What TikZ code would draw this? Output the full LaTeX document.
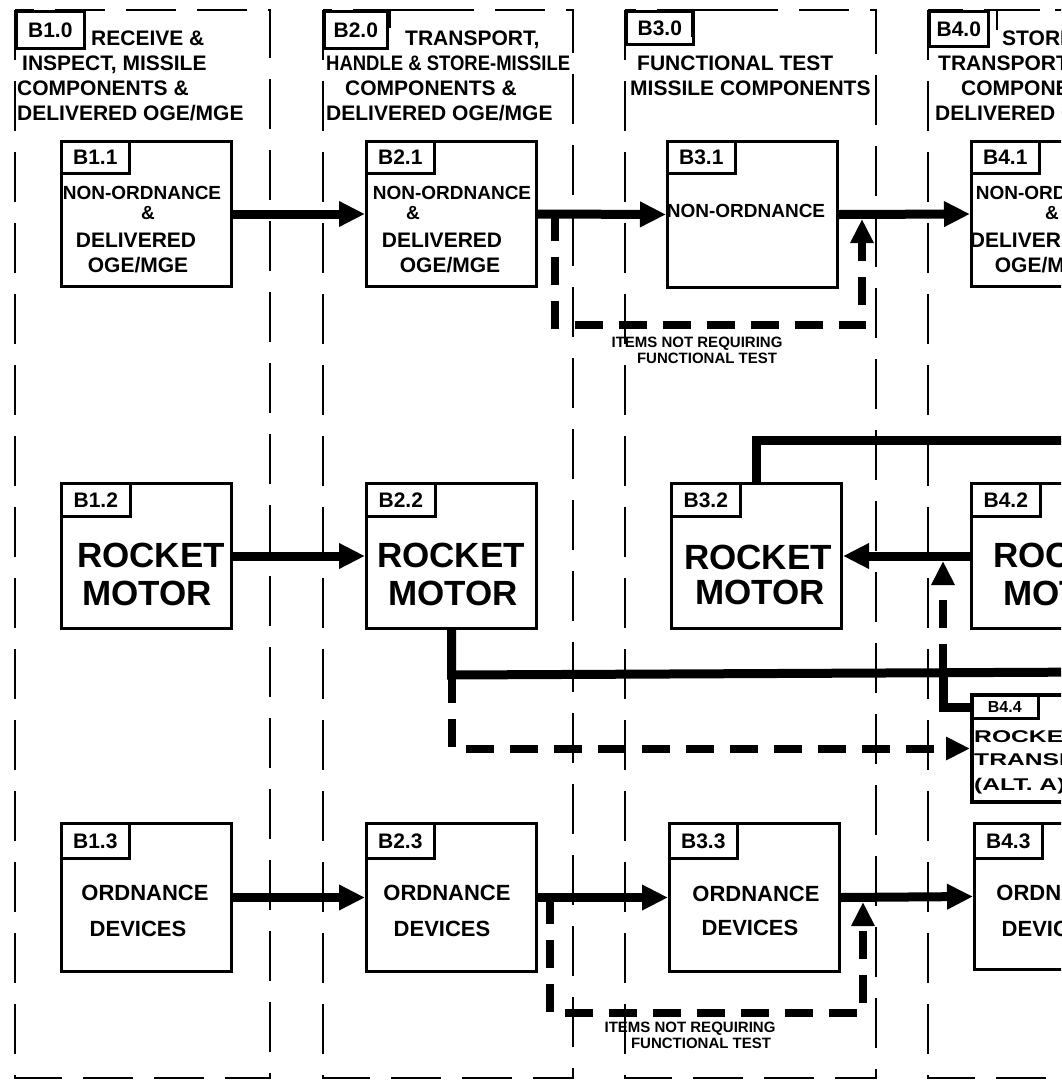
\documentclass[tikz,border=0pt]{standalone}
\usepackage{fontspec}
\usepackage{graphicx}
\setmainfont{Liberation Sans}
\usetikzlibrary{arrows.meta,calc}
\begin{document}
\begin{tikzpicture}[x=1pt,y=-1pt,
  colb/.style={line width=2.6pt, dash pattern=on 50pt off 21pt},
  tab/.style={draw, line width=2.6pt, inner sep=0pt, anchor=north west},
  box/.style={draw, line width=3pt, inner sep=0pt, minimum width=170pt, anchor=north west},
  flow/.style={line width=9pt, -{Triangle[length=26pt,width=24pt]}},
  tline/.style={line width=9pt},
  dflow/.style={line width=8pt, dash pattern=on 28pt off 16pt, -{Triangle[length=24pt,width=22pt]}},
  brk/.style={line width=2.6pt},
  hd/.style={font=\bfseries\fontsize{21}{21}\selectfont, inner sep=0pt, anchor=base west},
  tl/.style={font=\bfseries\fontsize{21}{21}\selectfont, inner sep=0pt, anchor=base},
  no/.style={font=\bfseries\fontsize{19}{19}\selectfont, inner sep=0pt, anchor=base},
  dl/.style={font=\bfseries\fontsize{21}{21}\selectfont, inner sep=0pt, anchor=base},
  rk/.style={font=\bfseries\fontsize{35}{35}\selectfont, inner sep=0pt, anchor=base},
  od/.style={font=\bfseries\fontsize{22}{22}\selectfont, inner sep=0pt, anchor=base},
  sm/.style={font=\bfseries\fontsize{15}{15}\selectfont, inner sep=0pt, anchor=base},
  bx/.style={font=\bfseries\fontsize{17}{17}\selectfont, inner sep=0pt, anchor=base west},
  tls/.style={font=\bfseries\fontsize{16}{16}\selectfont, inner sep=0pt, anchor=base},
]
\useasboundingbox (0,0) rectangle (1061,1087);
\fill[white] (0,0) rectangle (1061,1087);
\clip (0,0) rectangle (1061,1087);

% ---- column frames ----
\draw[colb] (15,10) rectangle (270,1078);
\draw[colb] (323,10) rectangle (573,1078);
\draw[colb] (625,10) rectangle (876,1078);
\draw[colb] (928,10) rectangle (1120,1078);

% ---- header tabs ----
\node[tab, minimum width=68pt, minimum height=37pt] (h1) at (15,10) {};
\node[tl] (h1l) at ($(h1.center)+(0,7.5)$) {B1.0};
\node[tab, minimum width=63pt, minimum height=37pt] (h2) at (323,10) {};
\node[tl] (h2l) at ($(h2.center)+(0,7.5)$) {B2.0};
\node[tab, minimum width=67pt, minimum height=33pt] (h3) at (625,10) {};
\node[tl] (h3l) at ($(h3.center)+(0,7.5)$) {B3.0};
\node[tab, minimum width=59pt, minimum height=35pt] (h4) at (928,10) {};
\node[tl] (h4l) at ($(h4.center)+(0,7.5)$) {B4.0};
\draw[brk] (390,28) -- (390,10) -- (430,10);
\draw[brk] (692,37) -- (692,10) -- (735,10);
\draw[brk] (997,30) -- (997,10) -- (1040,10);

% ---- header texts ----
\node[hd] (t1a) at (91,45.5) {RECEIVE \&};
\node[hd] (t1b) at (22,70.5) {INSPECT, MISSILE};
\node[hd] (t1c) at (17,95.5) {COMPONENTS \&};
\node[hd] (t1d) at (17,120.5) {DELIVERED OGE/MGE};
\node[hd] (t2a) at (405,45.5) {TRANSPORT,};
\node[hd] (t2b) at (326,70.5) {\scalebox{0.88}[1]{HANDLE \& STORE-MISSILE}};
\node[hd] (t2c) at (345,95.5) {COMPONENTS \&};
\node[hd] (t2d) at (326,120.5) {DELIVERED OGE/MGE};
\node[hd] (t3a) at (637,70.5) {FUNCTIONAL TEST};
\node[hd] (t3b) at (630,95.5) {MISSILE COMPONENTS};
\node[hd] (t4a) at (1002,45.5) {STORE,};
\node[hd] (t4b) at (938,70.5) {TRANSPORT MISSILE};
\node[hd] (t4c) at (961,95.5) {COMPONENTS \&};
\node[hd] (t4d) at (935,120.5) {DELIVERED OGE/MGE};

% ---- row 1 boxes ----
\node[box, minimum height=145pt] (b11) at (60,140) {};
\node[box, minimum height=145pt] (b21) at (365,140) {};
\node[box, minimum height=146pt] (b31) at (666,140) {};
\node[box, minimum height=145pt] (b41) at (970,140) {};
\foreach \b/\l in {b11/B1.1,b21/B2.1,b31/B3.1,b41/B4.1}{
  \node[tab, minimum width=68pt, minimum height=32pt] (\b t) at (\b.north west) {};
  \node[tl] (\b tl) at ($(\b t.center)+(0,7.5)$) {\l};
}
\node[no] (n11a) at (142,199) {NON-ORDNANCE};
\node[no] (n11b) at (148,219) {\&};
\node[dl] (n11c) at (136,247.5) {DELIVERED};
\node[dl] (n11d) at (138,272.5) {OGE/MGE};
\node[no] (n21a) at (452,199) {NON-ORDNANCE};
\node[no] (n21b) at (413,219) {\&};
\node[dl] (n21c) at (442,247.5) {DELIVERED};
\node[dl] (n21d) at (450,272.5) {OGE/MGE};
\node[no] (n31a) at (746,217) {NON-ORDNANCE};
\node[no] (n41a) at (1055,199) {NON-ORDNANCE};
\node[no] (n41b) at (1052,219) {\&};
\node[dl] (n41c) at (1030,247.5) {DELIVERED};
\node[dl] (n41d) at (1045,272.5) {OGE/MGE};

% ---- row 2 boxes ----
\node[box, minimum height=145pt] (b12) at (60,482) {};
\node[box, minimum height=145pt] (b22) at (365,482) {};
\node[box, minimum height=145pt] (b32) at (670,482) {};
\node[box, minimum height=145pt] (b42) at (970,482) {};
\foreach \b/\l in {b12/B1.2,b22/B2.2,b32/B3.2,b42/B4.2}{
  \node[tab, minimum width=69pt, minimum height=33pt] (\b t) at (\b.north west) {};
  \node[tl] (\b tl) at ($(\b t.center)+(0,7.5)$) {\l};
}
\node[rk] (r12a) at (151,567.7) {ROCKET};
\node[rk] (r12b) at (147,605.7) {MOTOR};
\node[rk] (r22a) at (451,567.7) {ROCKET};
\node[rk] (r22b) at (453,605.7) {MOTOR};
\node[rk] (r32a) at (758,569.7) {ROCKET};
\node[rk] (r32b) at (760,604.7) {MOTOR};
\node[rk] (r42a) at (1067,567.7) {ROCKET};
\node[rk] (r42b) at (1068,605.7) {MOTOR};

% ---- B4.4 ----
\node[box, minimum height=107pt, line width=4pt] (b44) at (970,693) {};
\node[tab, minimum width=67pt, minimum height=24pt] (b44t) at (b44.north west) {};
\node[tls] (b44tl) at ($(b44t.center)+(0,5.8)$) {B4.4};
\node[bx] (x44a) at (974,742) {\scalebox{1.45}[1]{ROCKET MOTOR}};
\node[bx] (x44b) at (974,765) {\scalebox{1.45}[1]{TRANSPORT}};
\node[bx] (x44c) at (974,790) {\scalebox{1.45}[1]{(ALT. A)}};

% ---- row 3 boxes ----
\node[box, minimum height=148pt] (b13) at (60,822) {};
\node[box, minimum height=148pt] (b23) at (365,822) {};
\node[box, minimum height=148pt] (b33) at (668,822) {};
\node[box, minimum height=146pt] (b43) at (973,822) {};
\foreach \b/\l in {b13/B1.3,b23/B2.3,b33/B3.3,b43/B4.3}{
  \node[tab, minimum width=68pt, minimum height=35pt] (\b t) at (\b.north west) {};
  \node[tl] (\b tl) at ($(\b t.center)+(0,7.5)$) {\l};
}
\node[od] (o13a) at (145,900) {ORDNANCE};
\node[od] (o13b) at (138,936) {DEVICES};
\node[od] (o23a) at (447,900) {ORDNANCE};
\node[od] (o23b) at (442,936) {DEVICES};
\node[od] (o33a) at (756,901) {ORDNANCE};
\node[od] (o33b) at (750,935) {DEVICES};
\node[od] (o43a) at (1060,900) {ORDNANCE};
\node[od] (o43b) at (1050,936) {DEVICES};

% ---- row 1 connectors ----
\draw[flow] (b11.east) -- (b21.west);
\draw[flow] (b21.east) -- (b31.west);
\draw[flow] (b31.east) -- (b41.west);
\coordinate (p1) at (555,212.5);
\coordinate (p2) at (555,325);
\coordinate (p3) at (862,325);
\coordinate (p4) at (862,219);
\draw[dflow] (p1) -- (p2) -- (p3) -- (p4);
\node[sm] (s1a) at (697,347.5) {ITEMS NOT REQUIRING};
\node[sm] (s1b) at (707,363.5) {FUNCTIONAL TEST};

% ---- row 2 connectors ----
\draw[flow] (b12.east) -- (b22.west);
\draw[flow] (b42.west) -- (b32.east);
\coordinate (br) at ($(b22.south)+(0,45)$);
\coordinate (e1) at (1100,672);
\draw[tline] (b22.south) -- (br) -- (e1);
\coordinate (tp) at ($(b32.north)+(0,-42)$);
\coordinate (e2) at (1100,440);
\draw[tline] (b32.north) -- (tp) -- (e2);
\draw[dflow] (br) |- (b44.west);
\coordinate (u1) at (943,672);
\coordinate (u2) at (943,561);
\draw[dflow] (u1) -- (u2);
\coordinate (l2) at (970,707);
\draw[tline] (u1) |- (l2);

% ---- row 3 connectors ----
\draw[flow] (b13.east) -- (b23.west);
\draw[flow] (b23.east) -- (b33.west);
\draw[flow] (b33.east) -- (b43.west);
\coordinate (q1) at (550,896);
\coordinate (q2) at (550,1013);
\coordinate (q3) at (863,1013);
\coordinate (q4) at (863,902);
\draw[dflow] (q1) -- (q2) -- (q3) -- (q4);
\node[sm] (s3a) at (690,1032.5) {ITEMS NOT REQUIRING};
\node[sm] (s3b) at (701,1048.5) {FUNCTIONAL TEST};
\end{tikzpicture}
\end{document}
